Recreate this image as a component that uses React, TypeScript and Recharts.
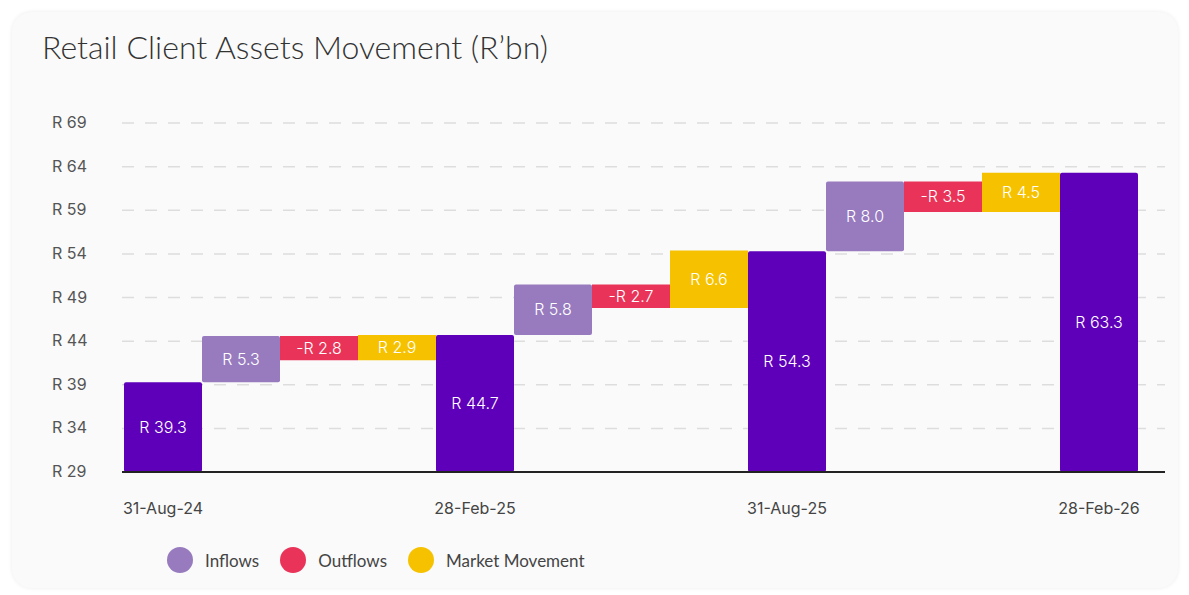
import { BarChart, Bar, XAxis, YAxis, CartesianGrid, Legend, LabelList } from 'recharts'

// period-end totals and the movements between them (R'bn)
const PERIODS = ['31-Aug-24', '28-Feb-25', '31-Aug-25', '28-Feb-26']
const TOTALS = [39.3, 44.7, 54.3, 63.3]
const INFLOWS = [5.3, 5.8, 8.0]
const OUTFLOWS = [2.8, 2.7, 3.5]
const MARKET = [2.9, 6.6, 4.5]
const Y_TICKS = [29, 34, 39, 44, 49, 54, 59, 64, 69]

const COLORS = {
  total: '#5E00BA',
  inflow: '#977BBE',
  outflow: '#EA3359',
  market: '#F6C200',
}

const LEGEND_ITEMS = [
  { label: 'Inflows', color: COLORS.inflow },
  { label: 'Outflows', color: COLORS.outflow },
  { label: 'Market Movement', color: COLORS.market },
]

type Row = {
  name: string
  base: number
  total?: number
  inflow?: number
  outflow?: number
  market?: number
}

// waterfall rows: invisible base + visible step
const rows: Row[] = []
PERIODS.forEach((period, i) => {
  rows.push({ name: period, base: 0, total: TOTALS[i] })
  if (i >= INFLOWS.length) return
  let running = TOTALS[i]
  rows.push({ name: `in-${i}`, base: running, inflow: INFLOWS[i] })
  running += INFLOWS[i]
  rows.push({ name: `out-${i}`, base: running - OUTFLOWS[i], outflow: OUTFLOWS[i] })
  running -= OUTFLOWS[i]
  rows.push({ name: `mkt-${i}`, base: running, market: MARKET[i] })
})

const fmt = (v: any) => (v == null || v === 0 ? '' : `R ${Number(v).toFixed(1)}`)
const fmtNeg = (v: any) => (v == null || v === 0 ? '' : `-R ${Number(v).toFixed(1)}`)

const FONT = 'Inter, "Noto Sans", sans-serif'

function YTick(props: any) {
  const { y, payload } = props
  return (
    <text x={52} y={y} dy={5} fill="#555" fontSize={16} fontFamily={FONT} textAnchor="start">
      {`R ${payload.value}`}
    </text>
  )
}

function XTick(props: any) {
  const { x, y, payload } = props
  if (!PERIODS.includes(payload.value)) return null
  return (
    <text x={x} y={y} dy={42} fill="#444" fontSize={16} fontFamily={FONT} textAnchor="middle">
      {payload.value}
    </text>
  )
}

function LegendContent() {
  return (
    <div style={{ display: 'flex', alignItems: 'center', fontFamily: 'Lato, sans-serif', fontSize: 17, color: '#444' }}>
      {LEGEND_ITEMS.map((item, i) => (
        <div key={item.label} style={{ display: 'flex', alignItems: 'center', marginLeft: i === 0 ? 0 : 21 }}>
          <span style={{ width: 26, height: 26, borderRadius: 13, background: item.color, display: 'inline-block' }} />
          <span style={{ marginLeft: 12 }}>{item.label}</span>
        </div>
      ))}
    </div>
  )
}

const labelStyle = { fill: '#fff', fontSize: 16, fontFamily: FONT, fontWeight: 300 }

export default function App() {
  return (
    <div style={{ position: 'fixed', left: 0, top: 0, width: 1189, height: 595, background: '#fff', overflow: 'hidden' }}>
      <div
        style={{
          position: 'absolute',
          left: 12,
          top: 12,
          width: 1166,
          height: 576,
          borderRadius: 20,
          background: '#fafafa',
          boxShadow: '0 0 4px rgba(0,0,0,0.08)',
        }}
      />
      <div
        style={{
          position: 'absolute',
          left: 42,
          top: 27,
          fontFamily: 'Lato, sans-serif',
          fontSize: 32,
          fontWeight: 300,
          color: '#333',
        }}
      >
        Retail Client Assets Movement (R’bn)
      </div>
      <div style={{ position: 'absolute', left: 0, top: 0 }}>
        <BarChart
          width={1189}
          height={595}
          data={rows}
          barCategoryGap={0}
          margin={{ top: 123, right: 24, bottom: 83, left: 52 }}
        >
          <CartesianGrid vertical={false} stroke="#ddd" strokeWidth={1.5} strokeDasharray="12 11" />
          <XAxis
            dataKey="name"
            interval={0}
            height={40}
            tickLine={false}
            tickSize={0}
            tickMargin={0}
            padding={{ left: 2, right: 27 }}
            axisLine={{ stroke: '#222', strokeWidth: 2 }}
            tick={<XTick />}
          />
          <YAxis
            width={70}
            domain={[29, 69]}
            ticks={Y_TICKS}
            allowDataOverflow
            axisLine={false}
            tickLine={false}
            tick={<YTick />}
          />
          <Legend
            verticalAlign="middle"
            align="center"
            layout="horizontal"
            content={<LegendContent />}
            wrapperStyle={{ left: 167, top: 547, width: 'auto' }}
          />
          <Bar dataKey="base" stackId="w" fill="transparent" isAnimationActive={false} legendType="none" />
          <Bar dataKey="total" stackId="w" fill={COLORS.total} radius={2} isAnimationActive={false}>
            <LabelList dataKey="total" position="center" formatter={fmt} style={labelStyle} />
          </Bar>
          <Bar dataKey="inflow" stackId="w" fill={COLORS.inflow} radius={2} isAnimationActive={false}>
            <LabelList dataKey="inflow" position="center" formatter={fmt} style={labelStyle} />
          </Bar>
          <Bar dataKey="outflow" stackId="w" fill={COLORS.outflow} isAnimationActive={false}>
            <LabelList dataKey="outflow" position="center" formatter={fmtNeg} style={labelStyle} />
          </Bar>
          <Bar dataKey="market" stackId="w" fill={COLORS.market} isAnimationActive={false}>
            <LabelList dataKey="market" position="center" formatter={fmt} style={labelStyle} />
          </Bar>
        </BarChart>
      </div>
    </div>
  )
}
